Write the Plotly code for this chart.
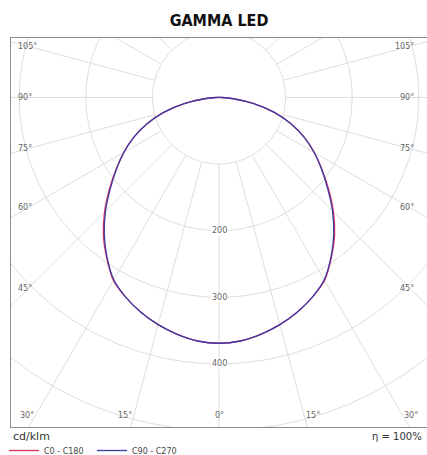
import numpy as np
import plotly.graph_objects as go

# ---------------- data ----------------
chart_title = "GAMMA LED"
gamma_deg = [0, 5, 10, 15, 20, 25, 30, 35, 40, 45, 50, 55, 60, 65, 70, 75, 80, 85, 90,
             95, 100, 105, 110, 115, 120, 125, 130, 135, 140, 145, 150, 155, 160, 165, 170, 175, 180]
c0_c180 = [369, 367, 361, 353, 343, 331, 317, 294, 270, 243, 215, 189, 165, 141, 115, 86, 53, 22, 4,
           0, 0, 0, 0, 0, 0, 0, 0, 0, 0, 0, 0, 0, 0, 0, 0, 0, 0]
c90_c270 = [369, 367, 361, 353, 343, 331, 316, 293, 268, 241, 213, 188, 165, 141, 115, 86, 53, 22, 4,
            0, 0, 0, 0, 0, 0, 0, 0, 0, 0, 0, 0, 0, 0, 0, 0, 0, 0]
series_names = ["C0 - C180", "C90 - C270"]
ring_values = [100, 200, 300, 400, 500, 600, 700]
ring_labels = [200, 300, 400]
spoke_angles = [0, 15, 30, 45, 60, 75, 90, 105, 120, 135, 150, 165, 180]
side_label_angles = [105, 90, 75, 60, 45]
bottom_label_angles = [-30, -15, 0, 15, 30]
unit_text = "cd/klm"
efficiency_text = "η = 100%"

# ---------------- geometry ----------------
W, H = 427, 455
PX = 0.666                      # px per cd/klm
X_MIN, X_MAX = -312.3, 312.3
Y_MIN, Y_MAX = -494.7, 89.3
HUB = 100

def curve_xy(values):
    g = np.array(gamma_deg, float)
    v = np.array(values, float)
    # left half (C0 / C90) and mirrored right half (C180 / C270)
    th = np.concatenate([-g[::-1], g[1:]])
    r = np.concatenate([v[::-1], v[1:]])
    t = np.radians(th)
    return r * np.sin(t), -r * np.cos(t)

grid_col = "#dedede"
fig = go.Figure()

# rings
rx, ry = [], []
tt = np.radians(np.linspace(0, 360, 721))
for R in ring_values:
    rx += list(R * np.sin(tt)) + [None]
    ry += list(R * np.cos(tt)) + [None]
fig.add_trace(go.Scatter(x=rx, y=ry, mode="lines", line=dict(color=grid_col, width=1),
                         hoverinfo="skip", showlegend=False))
# spokes
sx, sy = [], []
for a in spoke_angles:
    for s in ([-1, 1] if a not in (0, 180) else [1]):
        t = np.radians(s * a)
        sx += [HUB * np.sin(t), 900 * np.sin(t), None]
        sy += [-HUB * np.cos(t), -900 * np.cos(t), None]
fig.add_trace(go.Scatter(x=sx, y=sy, mode="lines", line=dict(color=grid_col, width=1),
                         hoverinfo="skip", showlegend=False))

# series
for vals, name, col in [(c0_c180, series_names[0], "#e0305a"),
                        (c90_c270, series_names[1], "#3b3ba6")]:
    x, y = curve_xy(vals)
    fig.add_trace(go.Scatter(x=x, y=y, mode="lines", name=name,
                             line=dict(color=col, width=1.3, shape="spline", smoothing=0.8),
                             hoverinfo="skip"))

ann = []
lab_font = dict(family="DejaVu Sans", size=8, color="#666666")
# side labels
for a in side_label_angles:
    d = -X_MIN - 17 / PX
    yv = -d * np.cos(np.radians(a)) / np.sin(np.radians(a))
    ann.append(dict(x=X_MIN + 5 / PX, y=yv, xref="x", yref="y", text=f"{a}°", showarrow=False,
                    xanchor="left", yanchor="middle", font=lab_font))
    ann.append(dict(x=X_MAX - 11 / PX, y=yv, xref="x", yref="y", text=f"{a}°", showarrow=False,
                    xanchor="right", yanchor="middle", font=lab_font))
# bottom labels
yb = Y_MIN + 12 / PX
for a in bottom_label_angles:
    xv = -yb * np.tan(np.radians(a))
    ann.append(dict(x=xv, y=yb, xref="x", yref="y", text=f"{abs(a)}°", showarrow=False,
                    xanchor="center", yanchor="middle", xshift=int(np.sign(a)) * 9, font=lab_font))
# ring labels
for R in ring_labels:
    ann.append(dict(x=0, y=-R, xref="x", yref="y", text=str(R), showarrow=False,
                    bgcolor="white", borderpad=0, font=lab_font))
# unit / efficiency
ann.append(dict(x=11 / W, y=(H - 436) / H, xref="paper", yref="paper", text=unit_text,
                showarrow=False, xanchor="left", yanchor="middle",
                font=dict(family="DejaVu Sans", size=11, color="#333333")))
ann.append(dict(x=424 / W, y=(H - 436) / H, xref="paper", yref="paper", text=efficiency_text,
                showarrow=False, xanchor="right", yanchor="middle",
                font=dict(family="DejaVu Sans", size=10, color="#333333")))

axis_common = dict(showgrid=False, zeroline=False, showticklabels=False, ticks="",
                   showline=True, mirror=True, linecolor="#8c8c8c", linewidth=1, fixedrange=True)
fig.update_layout(
    width=W, height=H, autosize=False,
    margin=dict(l=0, r=0, t=0, b=0, autoexpand=False),
    paper_bgcolor="white", plot_bgcolor="white",
    title=dict(text=chart_title, x=219 / W, xanchor="center", y=1 - 20 / H, yanchor="middle",
               font=dict(family="DejaVu Sans Condensed", size=16, color="#111111", weight="bold")),
    xaxis=dict(range=[X_MIN, X_MAX], domain=[11 / W, 1.0], **axis_common),
    yaxis=dict(range=[Y_MIN, Y_MAX], domain=[(H - 427) / H, (H - 38) / H], **axis_common),
    legend=dict(orientation="h", x=4 / W, xanchor="left", y=-0.022, yanchor="bottom",
                font=dict(family="DejaVu Sans", size=8, color="#444444"),
                bgcolor="rgba(0,0,0,0)", entrywidth=43, entrywidthmode="pixels",
                itemwidth=30, tracegroupgap=0),
    annotations=ann,
)
fig.write_html("out.html", config={"displayModeBar": False, "responsive": False},
               post_script="document.body.style.margin='0';")
